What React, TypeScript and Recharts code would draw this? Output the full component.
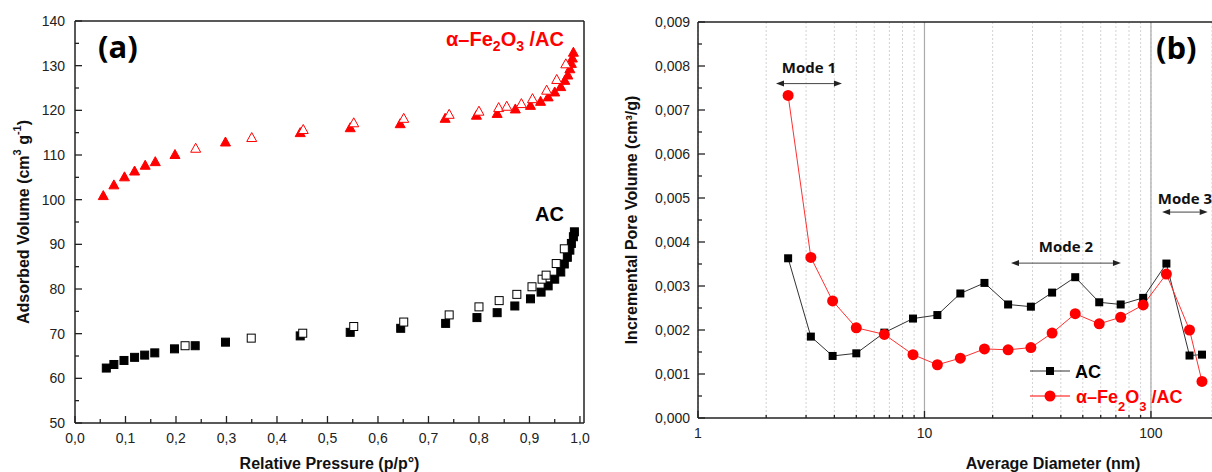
import React from "react";
import {
  ScatterChart,
  Scatter,
  ComposedChart,
  Line,
  XAxis,
  YAxis,
  CartesianGrid,
  ReferenceLine,
  Legend,
  Label,
} from "recharts";

// (a) N2 isotherms: relative pressure vs adsorbed volume
const acAdsPressure = [0.062, 0.077, 0.097, 0.118, 0.138, 0.158, 0.197, 0.238, 0.298, 0.446, 0.545, 0.645, 0.734, 0.796, 0.836, 0.871, 0.902, 0.923, 0.937, 0.95, 0.962, 0.969, 0.975, 0.98, 0.983, 0.987, 0.989];
const acAdsVolume = [62.3, 63.1, 64.0, 64.7, 65.2, 65.7, 66.6, 67.3, 68.1, 69.5, 70.3, 71.2, 72.3, 73.6, 74.7, 76.2, 77.8, 79.3, 80.7, 82.2, 83.8, 85.6, 87.1, 88.7, 90.2, 91.7, 92.8];
const acDesPressure = [0.218, 0.349, 0.451, 0.552, 0.651, 0.741, 0.8, 0.84, 0.875, 0.905, 0.925, 0.933, 0.953, 0.969];
const acDesVolume = [67.3, 69.0, 70.1, 71.6, 72.6, 74.2, 76.0, 77.4, 78.8, 80.5, 82.2, 83.1, 85.7, 89.0];

const feAdsPressure = [0.056, 0.077, 0.098, 0.118, 0.139, 0.159, 0.198, 0.298, 0.446, 0.545, 0.644, 0.733, 0.795, 0.836, 0.872, 0.902, 0.922, 0.937, 0.95, 0.962, 0.97, 0.976, 0.98, 0.983, 0.985, 0.987];
const feAdsVolume = [100.8, 103.2, 105.0, 106.3, 107.6, 108.4, 110.0, 112.8, 114.9, 116.0, 116.9, 118.1, 118.8, 119.2, 120.2, 121.0, 121.9, 122.9, 124.0, 125.2, 126.6, 127.8, 129.2, 130.4, 131.6, 132.9];
const feDesPressure = [0.239, 0.35, 0.452, 0.552, 0.651, 0.741, 0.8, 0.839, 0.855, 0.884, 0.906, 0.934, 0.954, 0.972];
const feDesVolume = [111.4, 113.8, 115.6, 117.1, 118.1, 119.0, 119.7, 120.5, 120.8, 121.4, 122.5, 124.4, 126.8, 130.3];

const pressureTicks = [0, 0.05, 0.1, 0.15, 0.2, 0.25, 0.3, 0.35, 0.4, 0.45, 0.5, 0.55, 0.6, 0.65, 0.7, 0.75, 0.8, 0.85, 0.9, 0.95, 1.0];
const volumeTicks = [50, 55, 60, 65, 70, 75, 80, 85, 90, 95, 100, 105, 110, 115, 120, 125, 130, 135, 140];

// (b) pore size distribution
const diameters = [2.5, 3.15, 3.93, 5.0, 6.65, 8.9, 11.4, 14.4, 18.4, 23.4, 29.5, 36.6, 46.3, 59.1, 73.5, 92.4, 117, 148, 168];
const acPoreVolume = [0.00363, 0.00185, 0.00141, 0.00147, 0.00194, 0.00226, 0.00234, 0.00283, 0.00307, 0.00258, 0.00253, 0.00285, 0.0032, 0.00263, 0.00258, 0.00273, 0.00351, 0.00142, 0.00144];
const fePoreVolume = [0.00733, 0.00365, 0.00266, 0.00205, 0.0019, 0.00144, 0.00121, 0.00136, 0.00157, 0.00155, 0.0016, 0.00193, 0.00237, 0.00214, 0.00229, 0.00257, 0.00327, 0.002, 0.00083];

const diameterTicks = [1, 2, 3, 4, 5, 6, 7, 8, 9, 10, 20, 30, 40, 50, 60, 70, 80, 90, 100];
const poreTicks = [0, 0.0005, 0.001, 0.0015, 0.002, 0.0025, 0.003, 0.0035, 0.004, 0.0045, 0.005, 0.0055, 0.006, 0.0065, 0.007, 0.0075, 0.008, 0.0085, 0.009];

const modes = [
  { name: "Mode 1", from: 2.21, to: 4.32, level: 0.0076 },
  { name: "Mode 2", from: 24.1, to: 73.7, level: 0.00352 },
  { name: "Mode 3", from: 112, to: 178, level: 0.00468 },
];

const pts = (xs: number[], ys: number[]) => xs.map((p, i) => ({ p, v: ys[i] }));
const poreData = diameters.map((d, i) => ({ d, ac: acPoreVolume[i], fe: fePoreVolume[i] }));

const RED = "#ff0000";
const AXIS = "#222";
const FONT = "'Liberation Sans', Arial, sans-serif";
const TITLE_FONT = "'Open Sans', 'Noto Sans', sans-serif";

const near = (v: number, step: number) => Math.abs(v / step - Math.round(v / step)) < 1e-6;

const xTick = (isMajor: (v: number) => boolean, fmt: (v: number) => string, minorLen: number) => (props: any) => {
  const { x, y, payload } = props;
  const major = isMajor(payload.value);
  return (
    <g>
      <line x1={x} y1={y} x2={x} y2={y - (major ? 7 : minorLen)} stroke={AXIS} strokeWidth={1.3} />
      {major && (
        <text x={x} y={y + 20} textAnchor="middle" fontSize={14} fontFamily={FONT} fill="#222">
          {fmt(payload.value)}
        </text>
      )}
    </g>
  );
};

const yTick = (isMajor: (v: number) => boolean, fmt: (v: number) => string, gap: number) => (props: any) => {
  const { x, y, payload } = props;
  const major = isMajor(payload.value);
  return (
    <g>
      <line x1={x} y1={y} x2={x + (major ? 7 : 4)} y2={y} stroke={AXIS} strokeWidth={1.3} />
      {major && (
        <text x={x - gap} y={y} dy="0.36em" textAnchor="end" fontSize={14} fontFamily={FONT} fill="#222">
          {fmt(payload.value)}
        </text>
      )}
    </g>
  );
};

const triangle = (filled: boolean) => (props: any) => {
  const { cx, cy } = props;
  return (
    <polygon
      points={`${cx},${cy - 5.5} ${cx + 5},${cy + 3.5} ${cx - 5},${cy + 3.5}`}
      fill={filled ? RED : "#fff"}
      stroke={RED}
      strokeWidth={1}
    />
  );
};

const square = (filled: boolean) => (props: any) => {
  const { cx, cy } = props;
  return (
    <rect x={cx - 4} y={cy - 4} width={8} height={8} fill={filled ? "#000" : "#fff"} stroke="#000" strokeWidth={1} />
  );
};

const acDot = (props: any) => {
  const { cx, cy, index } = props;
  return <rect key={`ac-${index}`} x={cx - 4} y={cy - 4} width={8} height={8} fill="#000" />;
};

const feDot = (props: any) => {
  const { cx, cy, index } = props;
  return <circle key={`fe-${index}`} cx={cx} cy={cy} r={5.5} fill={RED} />;
};

const modeArrow = (label: string, lift: number) => (props: any) => {
  const { x1, y1, x2, y2 } = props;
  const h = 8;
  const w = 3;
  return (
    <g>
      <line x1={x1 + h} y1={y1} x2={x2 - h} y2={y2} stroke="#444" strokeWidth={1} />
      <polygon points={`${x1},${y1} ${x1 + h},${y1 - w} ${x1 + h},${y1 + w}`} fill="#222" />
      <polygon points={`${x2},${y2} ${x2 - h},${y2 - w} ${x2 - h},${y2 + w}`} fill="#222" />
      <text x={(x1 + x2) / 2} y={y1 - lift} textAnchor="middle" fontSize={15} fontWeight={700} fontFamily={TITLE_FONT} fill="#111">
        {label}
      </text>
    </g>
  );
};

const PoreLegend = () => (
  <svg width={170} height={58} style={{ overflow: "visible" }}>
    <line x1={0} y1={11} x2={40} y2={11} stroke="#333" strokeWidth={1} />
    <rect x={16} y={7} width={8} height={8} fill="#000" />
    <text x={45} y={18} fontSize={18} fontWeight={700} fontFamily={FONT} fill="#000">AC</text>
    <line x1={0} y1={36} x2={40} y2={36} stroke={RED} strokeWidth={1} />
    <circle cx={20} cy={36} r={5.5} fill={RED} />
    <text x={46} y={43} fontSize={18} fontWeight={700} fontFamily={FONT} fill={RED}>
      α–Fe<tspan baselineShift="sub" fontSize={13}>2</tspan>O<tspan baselineShift="sub" fontSize={13}>3</tspan> /AC
    </text>
  </svg>
);

export default function App() {
  const fmtP = (v: number) => v.toFixed(1).replace(".", ",");
  const fmtV = (v: number) => String(v);
  const fmtPore = (v: number) => v.toFixed(3).replace(".", ",");
  const fmtD = (v: number) => String(v);

  return (
    <div style={{ position: "absolute", left: 0, top: 0, width: 1212, height: 472, background: "#fff", overflow: "hidden" }}>
      <div style={{ position: "absolute", left: 0, top: 0 }}>
        <ScatterChart width={600} height={472} margin={{ top: 21, right: 16, bottom: 0, left: 15 }}>
          <XAxis
            dataKey="p"
            type="number"
            domain={[0, 1.008]}
            allowDataOverflow
            ticks={pressureTicks}
            interval={0}
            tickSize={0}
            tickMargin={0}
            tickLine={false}
            tick={xTick((v) => near(v, 0.1), fmtP, 4)}
            axisLine={{ stroke: AXIS, strokeWidth: 1.5 }}
            height={49}
            label={
              <Label
                content={(p: any) => (
                  <text x={p.viewBox.x + p.viewBox.width / 2} y={p.viewBox.y + 46} textAnchor="middle" fontSize={16} fontWeight={700} fontFamily={FONT} fill="#111">
                    Relative Pressure (p/p°)
                  </text>
                )}
              />
            }
          />
          <YAxis
            dataKey="v"
            type="number"
            domain={[50, 140]}
            allowDataOverflow
            ticks={volumeTicks}
            interval={0}
            tickSize={0}
            tickMargin={0}
            tickLine={false}
            tick={yTick((v) => near(v, 10), fmtV, 10)}
            axisLine={{ stroke: AXIS, strokeWidth: 1.5 }}
            width={60}
            label={
              <Label
                content={(p: any) => {
                  const cx = p.viewBox.x + 8;
                  const cy = p.viewBox.y + p.viewBox.height / 2;
                  return (
                    <text x={cx} y={cy} transform={`rotate(-90 ${cx} ${cy})`} textAnchor="middle" dominantBaseline="central" fontSize={16} fontWeight={700} fontFamily={FONT} fill="#111">
                      Adsorbed Volume (cm<tspan baselineShift="super" fontSize={11}>3</tspan> g<tspan baselineShift="super" fontSize={11}>-1</tspan>)
                    </text>
                  );
                }}
              />
            }
          />
          <ReferenceLine y={140} stroke={AXIS} strokeWidth={1.5} />
          <ReferenceLine x={1.008} stroke={AXIS} strokeWidth={1.5} />
          <Scatter name="AC ads" data={pts(acAdsPressure, acAdsVolume)} shape={square(true)} isAnimationActive={false} />
          <Scatter name="AC des" data={pts(acDesPressure, acDesVolume)} shape={square(false)} isAnimationActive={false} />
          <Scatter name="Fe ads" data={pts(feAdsPressure, feAdsVolume)} shape={triangle(true)} isAnimationActive={false} />
          <Scatter name="Fe des" data={pts(feDesPressure, feDesVolume)} shape={triangle(false)} isAnimationActive={false} />
        </ScatterChart>
      </div>

      <div style={{ position: "absolute", left: 0, top: 0, width: 600, height: 472, pointerEvents: "none" }}>
        <div style={{ position: "absolute", left: 98, top: 26, fontFamily: TITLE_FONT, fontWeight: 700, fontSize: 31, lineHeight: "40px", color: "#000" }}>(a)</div>
        <div style={{ position: "absolute", right: 600 - 564, top: 27, fontFamily: FONT, fontWeight: 700, fontSize: 20, lineHeight: "24px", color: RED, whiteSpace: "nowrap" }}>
          α–Fe<sub style={{ fontSize: 14 }}>2</sub>O<sub style={{ fontSize: 14 }}>3</sub> /AC
        </div>
        <div style={{ position: "absolute", right: 600 - 564, top: 202, fontFamily: FONT, fontWeight: 700, fontSize: 20, lineHeight: "24px", color: "#000" }}>AC</div>
      </div>

      <div style={{ position: "absolute", left: 600, top: 0 }}>
        <ComposedChart width={612} height={472} data={poreData} margin={{ top: 22, right: 0, bottom: 0, left: 18 }}>
          <CartesianGrid horizontal={false} stroke="#d2d2d2" strokeDasharray="2 2" />
          <XAxis
            dataKey="d"
            type="number"
            scale="log"
            domain={[1, 186]}
            allowDataOverflow
            ticks={diameterTicks}
            interval={0}
            tickSize={0}
            tickMargin={0}
            tickLine={false}
            tick={xTick((v) => v === 1 || v === 10 || v === 100, fmtD, 3)}
            axisLine={{ stroke: AXIS, strokeWidth: 1.5 }}
            height={54}
            label={
              <Label
                content={(p: any) => (
                  <text x={p.viewBox.x + 355} y={p.viewBox.y + 51} textAnchor="middle" fontSize={16} fontWeight={700} fontFamily={FONT} fill="#111">
                    Average Diameter (nm)
                  </text>
                )}
              />
            }
          />
          <YAxis
            type="number"
            domain={[0, 0.009]}
            allowDataOverflow
            ticks={poreTicks}
            interval={0}
            tickSize={0}
            tickMargin={0}
            tickLine={false}
            tick={yTick((v) => near(v, 0.001), fmtPore, 8)}
            axisLine={{ stroke: AXIS, strokeWidth: 1.5 }}
            width={80}
            label={
              <Label
                content={(p: any) => {
                  const cx = p.viewBox.x + 13;
                  const cy = p.viewBox.y + p.viewBox.height / 2;
                  return (
                    <text x={cx} y={cy} transform={`rotate(-90 ${cx} ${cy})`} textAnchor="middle" dominantBaseline="central" fontSize={16} fontWeight={700} fontFamily={FONT} fill="#111">
                      Incremental Pore Volume (cm³/g)
                    </text>
                  );
                }}
              />
            }
          />
          <ReferenceLine x={10} stroke="#aaa" strokeWidth={1.2} />
          <ReferenceLine x={100} stroke="#aaa" strokeWidth={1.2} />
          <ReferenceLine y={0.009} stroke={AXIS} strokeWidth={1.5} />
          {modes.map((m, i) => (
            <ReferenceLine
              key={m.name}
              segment={[{ x: m.from, y: m.level }, { x: m.to, y: m.level }]}
              shape={modeArrow(m.name, i === 2 ? 8 : 11)}
            />
          ))}
          <Line dataKey="ac" name="AC" stroke="#333" strokeWidth={1} dot={acDot} isAnimationActive={false} />
          <Line dataKey="fe" name="α–Fe2O3 /AC" stroke="#ff3030" strokeWidth={1} dot={feDot} isAnimationActive={false} />
          <Legend
            layout="vertical"
            align="center"
            verticalAlign="middle"
            content={() => <PoreLegend />}
            wrapperStyle={{ left: 430, top: 360, width: 170, height: 58 }}
          />
        </ComposedChart>
      </div>

      <div style={{ position: "absolute", left: 1156, top: 27, fontFamily: TITLE_FONT, fontWeight: 700, fontSize: 31, lineHeight: "40px", color: "#000" }}>(b)</div>
    </div>
  );
}
